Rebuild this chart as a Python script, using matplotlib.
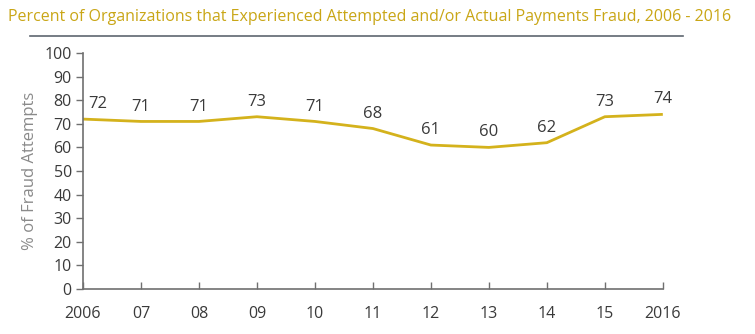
import matplotlib.pyplot as plt

years = ['2006', '07', '08', '09', '10', '11', '12', '13', '14', '15', '2016']
fraud_pct = [72, 71, 71, 73, 71, 68, 61, 60, 62, 73, 74]

gold = '#D4B21C'
title_gold = '#C9A616'
ink = '#3a3a3a'

plt.rcParams['font.family'] = ['Open Sans', 'DejaVu Sans']

fig = plt.figure(figsize=(7.55, 3.34), dpi=100)
ax = fig.add_axes([0.1099, 0.1347, 0.768, 0.7066])

x = list(range(len(years)))
ax.plot(x, fraud_pct, color=gold, lw=2.0, solid_capstyle='butt')

for i, v in enumerate(fraud_pct):
    if i == 0:
        ax.annotate(str(v), (i, v), xytext=(4, 5), textcoords='offset points',
                    ha='left', va='bottom', fontsize=12, color=ink)
    else:
        ax.annotate(str(v), (i, v), xytext=(0, 5), textcoords='offset points',
                    ha='center', va='bottom', fontsize=12, color=ink)

ax.set_xlim(0, len(years) - 1)
ax.set_ylim(0, 100)
ax.set_xticks(x)
ax.set_xticklabels(years)
ax.set_yticks(range(0, 101, 10))

for s in ['top', 'right']:
    ax.spines[s].set_visible(False)
for s in ['left', 'bottom']:
    ax.spines[s].set_color('#707070')
    ax.spines[s].set_linewidth(1.2)

ax.tick_params(axis='x', direction='in', length=5, width=1, color='#707070',
               labelsize=11.5, labelcolor=ink, pad=12)
ax.tick_params(axis='y', direction='out', length=5, width=1, color='#707070',
               labelsize=11.5, labelcolor=ink, pad=3)

ax.set_ylabel('% of Fraud Attempts', fontsize=12, color='#8a8a8a', labelpad=5)

fig.text(0.011, 0.948, 'Percent of Organizations that Experienced Attempted and/or Actual Payments Fraud, 2006 - 2016',
         fontsize=11.5, color=title_gold, ha='left', va='center')
fig.add_artist(plt.Line2D([0.04, 0.905], [0.892, 0.892], color='#5d6670', lw=1.2))

fig.savefig('out.png', dpi=100)
